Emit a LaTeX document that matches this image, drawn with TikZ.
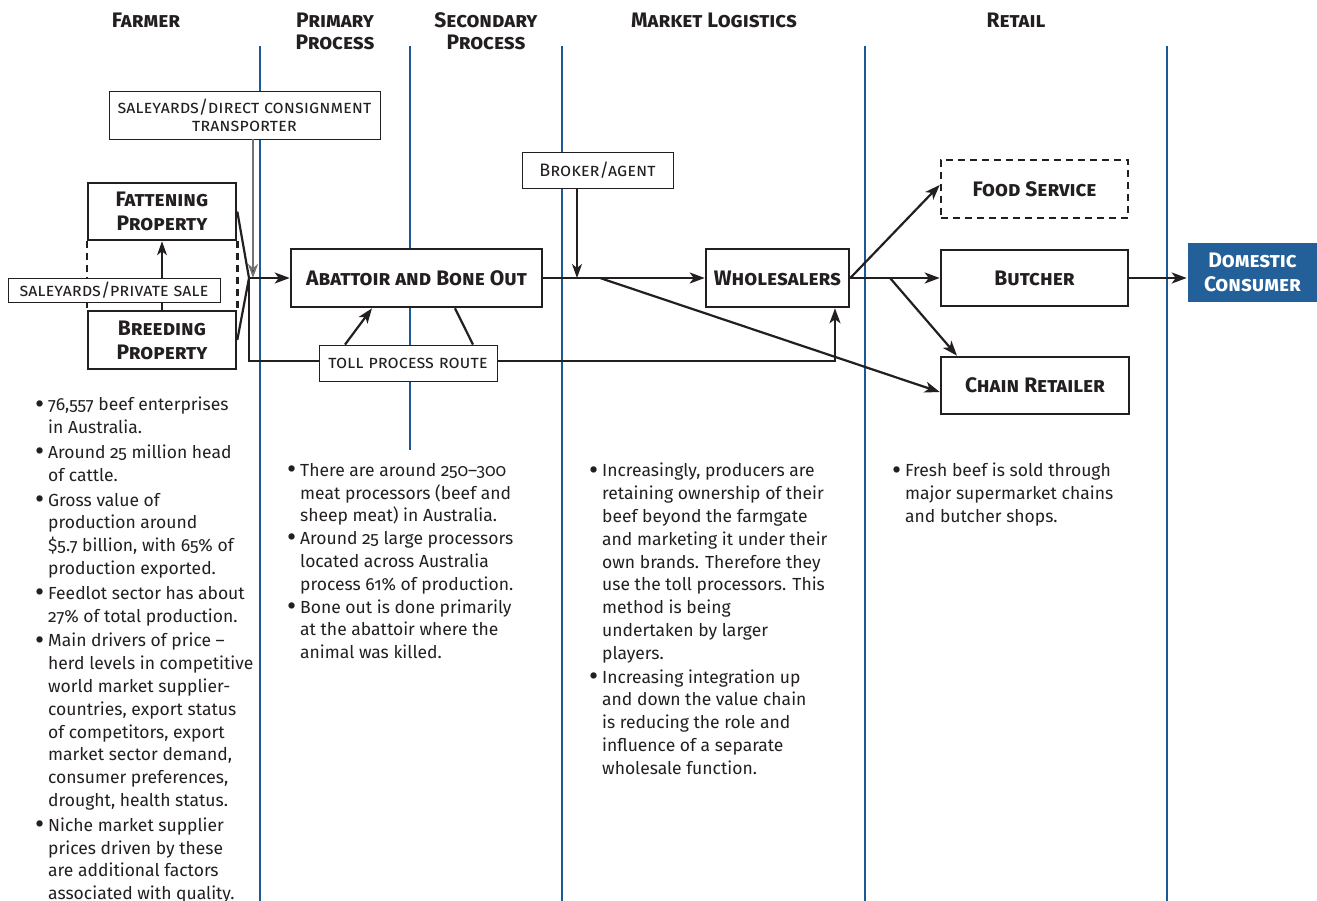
\documentclass[tikz,border=0pt]{standalone}
\usepackage{fontspec}
\setmainfont{Fira Sans}[RawFeature={+onum}]
\usetikzlibrary{arrows.meta,positioning}
\definecolor{laneblue}{RGB}{28,88,148}
\definecolor{consumerblue}{RGB}{35,96,154}
\definecolor{inkblack}{RGB}{35,31,32}
\tikzset{
  lane/.style={draw=laneblue, line width=2pt},
  heading/.style={align=center, text=inkblack, font=\fontsize{21}{22}\selectfont\bfseries\scshape},
  stagebox/.style={draw=inkblack, line width=2.6pt, fill=white, inner sep=0pt,
    minimum width=#1, align=center, text=inkblack,
    font=\fontsize{21}{24}\selectfont\bfseries\scshape},
  notebox/.style={draw=inkblack, line width=0.8pt, fill=white, inner sep=0pt,
    minimum width=#1, align=center, text=inkblack,
    font=\fontsize{18}{18}\selectfont\scshape},
  flow/.style={draw=inkblack, line width=2.2pt, -{Stealth[length=15pt,width=11pt,inset=4pt]}},
  thinflow/.style={draw=inkblack, line width=1.3pt, -{Stealth[length=14pt,width=10pt,inset=4pt]}},
  bullets/.style={anchor=north west, align=left, inner sep=0pt, text=inkblack,
    font=\fontsize{17.5}{22.8}\selectfont},
  boxdash/.style={dash pattern=on 7pt off 5pt},
}
\newcommand{\bul}{\llap{\raisebox{-2.2pt}{\scalebox{1.6}{\textbullet}}\hspace{4pt}}}
\begin{document}
\begin{tikzpicture}[x=1pt,y=-1pt]
  \useasboundingbox (0,0) rectangle (1317,901);
  % lanes
  \draw[lane] (260,46) -- (260,901);
  \draw[lane] (410,46) -- (410,450);
  \draw[lane] (562,46) -- (562,901);
  \draw[lane] (865,46) -- (865,901);
  \draw[lane] (1167,46) -- (1167,901);
  % headings
  \node[heading] (hfarm) at (146,20) {Farmer};
  \node[heading] (hprim) at (335,31) {Primary\\Process};
  \node[heading] (hsec) at (486,31) {Secondary\\Process};
  \node[heading] (hmark) at (714,20) {Market Logistics};
  \node[heading] (hret) at (1016,20) {Retail};
  % farm side
  \node[stagebox=148pt, minimum height=57pt] (fattening) at (162,211.5) {Fattening\\Property};
  \node[stagebox=148pt, minimum height=58pt] (breeding) at (162,340) {Breeding\\Property};
  \draw[inkblack, line width=2.4pt, boxdash] (fattening.south west) -- (breeding.north west);
  \draw[inkblack, line width=2.4pt, boxdash] (fattening.south east) -- (breeding.north east);
  \draw[thinflow] (breeding.north) -- (fattening.south);
  \node[notebox=212pt, minimum height=24pt] (privsale) at (114,290) {saleyards/private sale};
  \node[notebox=271pt, minimum height=48pt] (transporter) at (244.5,115) {saleyards/direct consignment\\transporter};
  \coordinate (join) at (249,278);
  \coordinate (drop) at (253,278);
  \coordinate (tollturn) at (835,361);
  \draw[inkblack, line width=2.2pt] (fattening.east) -- (join) -- (breeding.east);
  \draw[draw=black!55, line width=1.8pt, -{Stealth[length=14pt,width=10pt,inset=4pt,fill=inkblack]}] (transporter.south -| drop) -- (drop);
  % process and market
  \node[stagebox=251pt, minimum height=58pt] (abattoir) at (416.5,278) {Abattoir and Bone Out};
  \node[stagebox=143pt, minimum height=58pt] (wholesalers) at (777.5,278) {Wholesalers};
  \node[notebox=151pt, minimum height=36pt] (broker) at (597.5,170) {Broker/agent};
  \draw[flow] (join) -- (abattoir.west);
  \draw[flow] (join) |- (tollturn) -- (tollturn |- wholesalers.south);
  \node[notebox=178pt, minimum height=36pt] (toll) at (408,363) {toll process route};
  \draw[flow] ([xshift=-63pt]toll.north) -- ([xshift=-44.5pt]abattoir.south);
  \draw[inkblack, line width=2.2pt] ([xshift=65pt]toll.north) -- ([xshift=38.5pt]abattoir.south);
  \draw[flow] (abattoir.east) -- (wholesalers.west);
  \draw[thinflow] ([xshift=-20.5pt]broker.south) -- ([xshift=-20.5pt]broker.south |- abattoir.east);
  % retail
  \node[stagebox=187pt, minimum height=58pt, boxdash] (food) at (1034.5,189) {Food Service};
  \node[stagebox=187pt, minimum height=56pt] (butcher) at (1034.5,278) {Butcher};
  \node[stagebox=188pt, minimum height=57pt] (chain) at (1035,385.5) {Chain Retailer};
  \node[stagebox=129pt, minimum height=59pt, draw=none, fill=consumerblue, text=white] (consumer) at (1252.5,272.5) {Domestic\\Consumer};
  \coordinate (split) at (600,278);
  \coordinate (rsplit) at (890,278);
  \draw[flow] (split) -- ([yshift=-6.5pt]chain.west);
  \draw[flow] (wholesalers.east) -- ([yshift=4pt]food.west);
  \draw[flow] (wholesalers.east) -- (butcher.west);
  \draw[flow] (rsplit) -- ([xshift=-78pt]chain.north);
  \draw[flow] (butcher.east) -- (consumer.west |- butcher.east);
  % notes
  \node[bullets] (farmnotes) at (48,397) {%
    \bul 76,557 beef enterprises\\ in Australia.\\[2pt]
    \bul Around 25 million head\\ of cattle.\\[2pt]
    \bul Gross value of\\ production around\\ \$5.7 billion, with 65\% of\\ production exported.\\[2pt]
    \bul Feedlot sector has about\\ 27\% of total production.\\[2pt]
    \bul Main drivers of price --\\ herd levels in competitive\\ world market supplier-\\ countries, export status\\ of competitors, export\\ market sector demand,\\ consumer preferences,\\ drought, health status.\\[2pt]
    \bul Niche market supplier\\ prices driven by these\\ are additional factors\\ associated with quality.};
  \node[bullets] (primnotes) at (300,463) {%
    \bul There are around 250--300\\ meat processors (beef and\\ sheep meat) in Australia.\\
    \bul Around 25 large processors\\ located across Australia\\ process 61\% of production.\\
    \bul Bone out is done primarily\\ at the abattoir where the\\ animal was killed.};
  \node[bullets] (marknotes) at (602,463) {%
    \bul Increasingly, producers are\\ retaining ownership of their\\ beef beyond the farmgate\\ and marketing it under their\\ own brands. Therefore they\\ use the toll processors. This\\ method is being\\ undertaken by larger\\ players.\\[1pt]
    \bul Increasing integration up\\ and down the value chain\\ is reducing the role and\\ influence of a separate\\ wholesale function.};
  \node[bullets] (retnotes) at (905,463) {%
    \bul Fresh beef is sold through\\ major supermarket chains\\ and butcher shops.};
\end{tikzpicture}
\end{document}
